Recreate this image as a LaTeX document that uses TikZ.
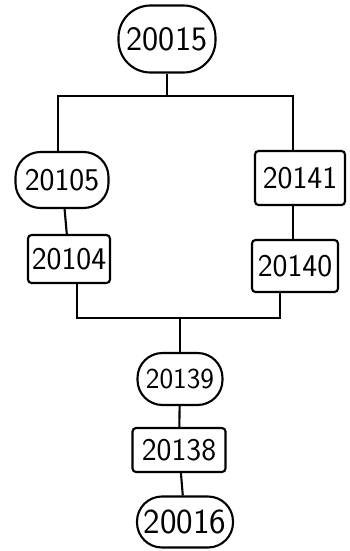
\documentclass[tikz,border=0pt]{standalone}
\usepackage{tikz}
\usetikzlibrary{calc}
\tikzset{
  blob/.style={draw, rectangle, rounded corners=0.5cm, line width=1.2pt, inner sep=0pt, font=\sffamily\fontsize{18}{20}\selectfont},
  card/.style={draw, rectangle, rounded corners=2pt, line width=1.2pt, inner sep=0pt, font=\sffamily\fontsize{18}{20}\selectfont},
  wire/.style={line width=1.2pt}
}

\begin{document}
\begin{tikzpicture}[x=0.02cm,y=-0.02cm]
		%%%%% START %%%%%
		\useasboundingbox (0,0) rectangle (350,551);
		
		\node[blob, minimum width=97*0.02cm, minimum height=67*0.02cm, rounded corners=0.64cm, font=\sffamily\fontsize{19.5}{22}\selectfont] (n20015) at (167,39) {20015};
		
		\node[blob, minimum width=93*0.02cm, minimum height=56*0.02cm] (n20105) at (62,180) {20105};
		\node[card, minimum width=82*0.02cm, minimum height=48*0.02cm] (n20104) at (69,259) {20104};
		
		\node[card, minimum width=90*0.02cm, minimum height=54*0.02cm] (n20141) at (300,178) {20141};
		\node[card, minimum width=86*0.02cm, minimum height=52*0.02cm] (n20140) at (295,266) {20140};
		
		\node[blob, minimum width=85*0.02cm, minimum height=52*0.02cm, font=\sffamily\fontsize{16.5}{19}\selectfont] (n20139) at (180,379) {20139};
		\node[card, minimum width=93*0.02cm, minimum height=44*0.02cm] (n20138) at (179,450) {20138};
		\node[blob, minimum width=96*0.02cm, minimum height=51*0.02cm, font=\sffamily\fontsize{20}{23}\selectfont] (n20016) at (185,522) {20016};
		
		% split
		\coordinate (topL) at (58,96);
		\coordinate (topR) at (293,96);
		\draw[wire] (n20015.south) -- (n20015.south |- topL);
		\draw[wire] (topL |- n20105.north) -- (topL) -- (topR) -- (topR |- n20141.north);
		
		\draw[wire] (n20105) -- (n20104);
		\draw[wire] (n20141.south -| topR) -- (n20140.north -| topR);
		
		% join
		\coordinate (botL) at (77,318);
		\coordinate (botR) at (280,318);
		\coordinate (botM) at (180,318);
		\draw[wire] (botL |- n20104.south) -- (botL) -- (botR) -- (botR |- n20140.south);
		\draw[wire] (botM) -- (n20139);
		
		\draw[wire] (n20139) -- (n20138);
		\draw[wire] (n20138) -- (n20016);
		%%%%% END %%%%%
	\end{tikzpicture}
\end{document}
